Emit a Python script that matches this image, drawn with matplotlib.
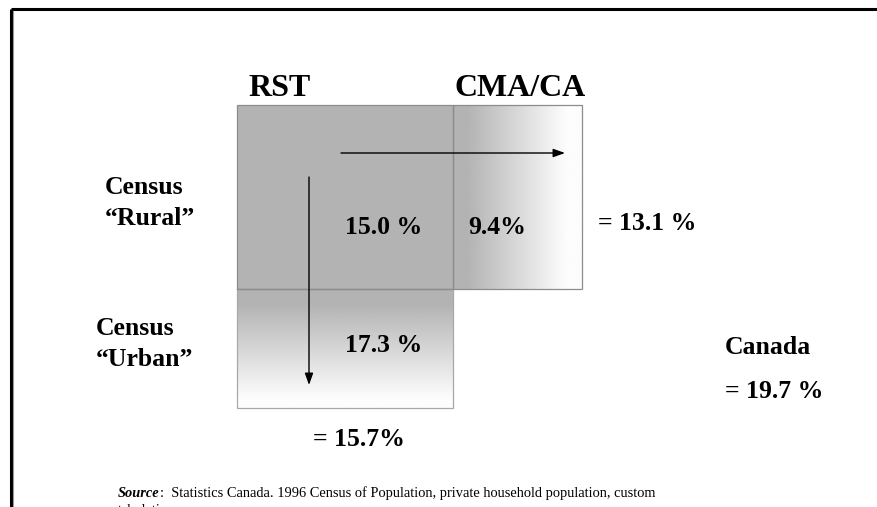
import numpy as np
import matplotlib
matplotlib.use("Agg")
import matplotlib.pyplot as plt
from matplotlib.lines import Line2D
from matplotlib.patches import Rectangle

# ---- data ----
col_labels = ["RST", "CMA/CA"]
row_labels = ["Census\n\u201cRural\u201d", "Census\n\u201cUrban\u201d"]
rural_rst = 15.0
rural_cma = 9.4
urban_rst = 17.3
rural_total = 13.1
rst_total = 15.7
canada_total = 19.7
source_bold = "Source"
source_text = ":  Statistics Canada. 1996 Census of Population, private household population, custom"
source_text2 = "tabulations."

W, H = 878, 507
fig = plt.figure(figsize=(W / 100, H / 100), dpi=100)
ax = fig.add_axes([0, 0, 1, 1])
ax.set_xlim(0, W)
ax.set_ylim(H, 0)
ax.axis("off")

FONT = "Liberation Serif"
gray = 0.70

# frame
ax.add_line(Line2D([11, W + 5], [9, 9], color="black", lw=2.2, solid_capstyle="butt"))
ax.add_line(Line2D([11, 11], [9, H + 5], color="black", lw=2.2, solid_capstyle="butt"))
ax.add_line(Line2D([12.8, 12.8], [11, H + 5], color="#9a9a9a", lw=0.8))

# boxes
x0, x1, x2 = 237, 453, 582
y0, y1, y2 = 105, 289, 408

# RST rural: solid gray
ax.add_patch(Rectangle((x0, y0), x1 - x0, y1 - y0, facecolor=(gray,) * 3,
                       edgecolor="#8c8c8c", lw=0.9, zorder=2))

# CMA rural: horizontal gradient
nx = 200
t = np.linspace(0, 1, nx)
g = np.clip((t - 0.1) / 0.78, 0, 1)
vals = gray + (0.99 - gray) * g
img = np.tile(vals, (2, 1))
ax.imshow(img, cmap="gray", vmin=0, vmax=1, extent=(x1, x2, y1, y0),
          aspect="auto", interpolation="bilinear", zorder=1)
ax.add_patch(Rectangle((x1, y0), x2 - x1, y1 - y0, facecolor="none",
                       edgecolor="#8c8c8c", lw=0.9, zorder=2))

# RST urban: vertical gradient
ny = 200
t = np.linspace(0, 1, ny)
g = np.clip((t - 0.12) / 0.8, 0, 1)
vals = gray + (0.99 - gray) * g
img = np.tile(vals[:, None], (1, 2))
ax.imshow(img, cmap="gray", vmin=0, vmax=1, extent=(x0, x1, y2, y1),
          aspect="auto", interpolation="bilinear", zorder=1, origin="upper")
ax.add_patch(Rectangle((x0, y1), x1 - x0, y2 - y1, facecolor="none",
                       edgecolor="#a8a8a8", lw=0.9, zorder=2))
ax.add_line(Line2D([x0, x1], [y1, y1], color="#8c8c8c", lw=0.9, zorder=3))

# arrows
ax.annotate("", xy=(565, 153), xytext=(341, 153),
            arrowprops=dict(arrowstyle="-|>,head_length=0.7,head_width=0.25",
                            color="black", lw=1.0, shrinkA=0, shrinkB=0), zorder=4)
ax.annotate("", xy=(309, 385), xytext=(309, 177),
            arrowprops=dict(arrowstyle="-|>,head_length=0.7,head_width=0.25",
                            color="black", lw=1.0, shrinkA=0, shrinkB=0), zorder=4)

big = dict(fontfamily=FONT, fontweight="bold", color="black")
# column headers
ax.text(248, 88, col_labels[0], fontsize=23, ha="left", va="center", **big)
ax.text(455, 88, col_labels[1], fontsize=23, ha="left", va="center", **big)
# row labels
ax.text(105, 203, row_labels[0], fontsize=18.5, ha="left", va="center",
        linespacing=1.42, **big)
ax.text(96, 344, row_labels[1], fontsize=18.5, ha="left", va="center",
        linespacing=1.42, **big)
# cells
ax.text(384, 227, f"{rural_rst:.1f} %", fontsize=18.5, ha="center", va="center", **big)
ax.text(497, 227, f"{rural_cma:.1f}%", fontsize=18.5, ha="center", va="center", **big)
ax.text(384, 345, f"{urban_rst:.1f} %", fontsize=18.5, ha="center", va="center", **big)
# totals
ax.text(598, 224, f"= {rural_total:.1f} %", fontsize=18.5, ha="left", va="center", **big)
ax.text(313, 439, f"= {rst_total:.1f}%", fontsize=18.5, ha="left", va="center", **big)
ax.text(725, 347, "Canada", fontsize=18.5, ha="left", va="center", **big)
ax.text(725, 391, f"= {canada_total:.1f} %", fontsize=18.5, ha="left", va="center", **big)

# source
SFS = 10.4
fig.canvas.draw()
s1 = ax.text(118, 497, source_bold, fontsize=SFS, fontfamily=FONT,
             fontweight="bold", fontstyle="italic", ha="left", va="baseline")
fig.canvas.draw()
bb = s1.get_window_extent()
xr = ax.transData.inverted().transform((bb.x1, bb.y0))[0]
ax.text(xr, 497, source_text, fontsize=SFS, fontfamily=FONT, ha="left", va="baseline")
ax.text(118, 514, source_text2, fontsize=SFS, fontfamily=FONT, ha="left", va="baseline")

fig.savefig("out.png", dpi=100, facecolor="white")
